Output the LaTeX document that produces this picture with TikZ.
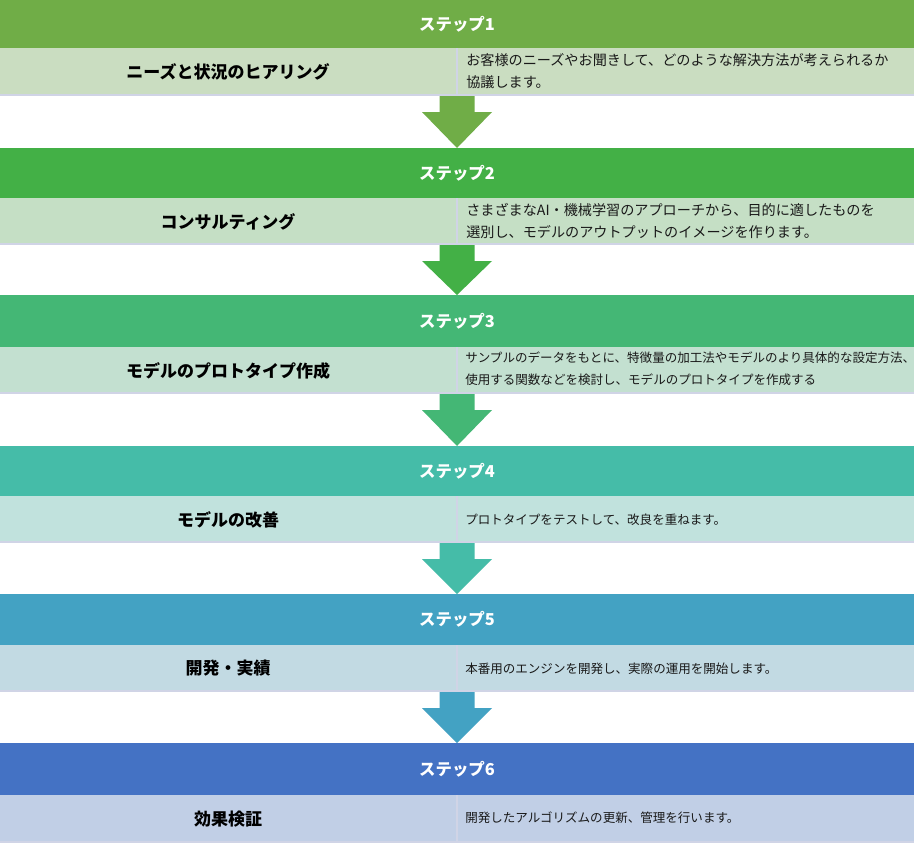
\documentclass[tikz,border=0pt]{standalone}
\usepackage{fontspec}
\setmainfont{Noto Sans CJK JP}
\usetikzlibrary{calc}
\definecolor{hA}{HTML}{70AD47}
\definecolor{hB}{HTML}{43B046}
\definecolor{hC}{HTML}{44B775}
\definecolor{hD}{HTML}{45BCA8}
\definecolor{hE}{HTML}{43A2C3}
\definecolor{hF}{HTML}{4472C4}
\definecolor{bA}{HTML}{CADDC1}
\definecolor{bB}{HTML}{C5DFC5}
\definecolor{bC}{HTML}{C3E0D0}
\definecolor{bD}{HTML}{C1E2DD}
\definecolor{bE}{HTML}{C2DAE3}
\definecolor{bF}{HTML}{C1CFE6}
\definecolor{bord}{HTML}{D0D4E6}
\tikzset{
  hdr/.style={rectangle, inner sep=0pt, outer sep=0pt, minimum width=685.5pt,
    text=white, font=\bfseries\fontsize{12.3}{14}\selectfont},
  bodybox/.style={rectangle, inner sep=0pt, outer sep=0pt, minimum width=685.5pt},
  ttl/.style={inner sep=0pt, font=\bfseries\fontsize{12.75}{15}\selectfont, text=black},
  descw/.style={inner sep=0pt, anchor=west, align=left, text=black!90,
    font=\fontsize{10.6}{16.5}\selectfont},
  descn/.style={inner sep=0pt, anchor=west, align=left, text=black!90,
    font=\fontsize{9.4}{16.5}\selectfont},
  borderline/.style={draw=bord, line width=1.5pt}
}
\begin{document}
\begin{tikzpicture}[x=0.75pt,y=-0.75pt]
\useasboundingbox (0,0) rectangle (914,847);
\fill[white] (0,0) rectangle (914,847);
% headers
\node[hdr, fill=hA, minimum height=36pt]    (hd1) at (457,24)    {ステップ1};
\node[hdr, fill=hB, minimum height=37.5pt]  (hd2) at (457,173)   {ステップ2};
\node[hdr, fill=hC, minimum height=39pt]    (hd3) at (457,321)   {ステップ3};
\node[hdr, fill=hD, minimum height=37.5pt]  (hd4) at (457,471)   {ステップ4};
\node[hdr, fill=hE, minimum height=38.25pt] (hd5) at (457,619.5) {ステップ5};
\node[hdr, fill=hF, minimum height=39pt]    (hd6) at (457,769)   {ステップ6};
% bodies
\node[bodybox, fill=bA, minimum height=36pt]    (bd1) at (457,72)    {};
\node[bodybox, fill=bB, minimum height=35.25pt] (bd2) at (457,221.5) {};
\node[bodybox, fill=bC, minimum height=35.25pt] (bd3) at (457,370.5) {};
\node[bodybox, fill=bD, minimum height=35.25pt] (bd4) at (457,519.5) {};
\node[bodybox, fill=bE, minimum height=35.25pt] (bd5) at (457,668.5) {};
\node[bodybox, fill=bF, minimum height=36pt]    (bd6) at (457,819)   {};
\foreach \b in {bd1,bd2,bd3,bd4,bd5,bd6}{
  \draw[borderline] ($(\b.south west)+(0,-1)$) -- ($(\b.south east)+(0,-1)$);
  \draw[borderline] (\b.north) -- (\b.south);
}
% titles
\node[ttl] (t1) at (228,72)    {ニーズと状況のヒアリング};
\node[ttl] (t2) at (228,221.5) {コンサルティング};
\node[ttl] (t3) at (228,370.5) {モデルのプロトタイプ作成};
\node[ttl] (t4) at (228,519.5) {モデルの改善};
\node[ttl] (t5) at (228,668.5) {開発・実績};
\node[ttl] (t6) at (228,819)   {効果検証};
% descriptions
\node[descw] (d1) at (466,71) {お客様のニーズやお聞きして、どのような解決方法が考えられるか\\協議します。};
\node[descw] (d2) at (466,221) {さまざまなAI・機械学習のアプローチから、目的に適したものを\\選別し、モデルのアウトプットのイメージを作ります。};
\node[descn] (d3) at (465,369) {サンプルのデータをもとに、特徴量の加工法やモデルのより具体的な設定方法、\\使用する関数などを検討し、モデルのプロトタイプを作成する};
\node[descn] (d4) at (465,519.5) {プロトタイプをテストして、改良を重ねます。};
\node[descn] (d5) at (465,668.5) {本番用のエンジンを開発し、実際の運用を開始します。};
\node[descn] (d6) at (465,818) {開発したアルゴリズムの更新、管理を行います。};
% block arrows
\foreach \c/\a/\n in {hA/bd1/hd2, hB/bd2/hd3, hC/bd3/hd4, hD/bd4/hd5, hE/bd5/hd6}{
  \fill[\c] ($(\a.south)+(-17.5,0)$) -- ($(\a.south)+(17.5,0)$) -- ($(\a.south)+(17.5,16)$)
    -- ($(\a.south)+(35,16)$) -- (\n.north) -- ($(\a.south)+(-35,16)$)
    -- ($(\a.south)+(-17.5,16)$) -- cycle;
}
\end{tikzpicture}
\end{document}
